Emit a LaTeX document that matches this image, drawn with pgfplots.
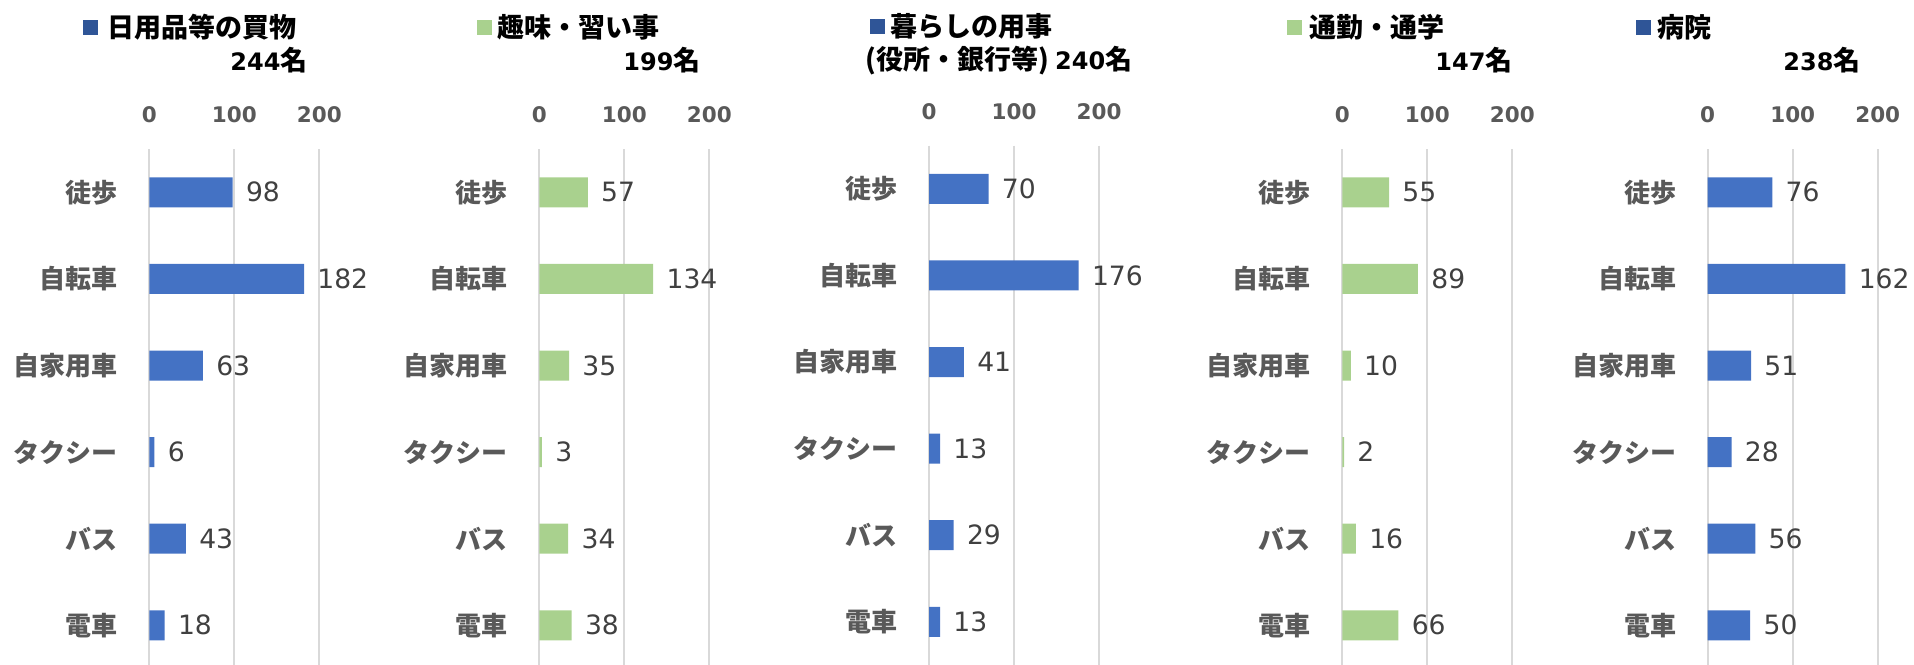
\documentclass[border=0pt]{standalone}
\usepackage{fontspec}
\setmainfont{DejaVu Sans}
\newfontfamily\jp{Noto Sans CJK JP}
\usepackage{pgfplots}
\pgfplotsset{compat=1.18}
\definecolor{barblue}{HTML}{4472C4}
\definecolor{bargreen}{HTML}{A9D18E}
\definecolor{legblue}{HTML}{2F5597}
\definecolor{labgray}{HTML}{595959}
\definecolor{numgray}{HTML}{404040}
\definecolor{gridgray}{HTML}{D9D9D9}
\pgfplotsset{panel/.style={
  xbar, scale only axis, width=85pt, height=259.8pt,
  xmin=0, xmax=200, ymin=-0.5, ymax=5.5, y dir=reverse,
  enlargelimits=false, clip=false,
  axis line style={draw=none}, major tick length=0pt,
  xtick={0,100,200}, xticklabels={0,100,200}, xticklabel pos=upper,
  xticklabel style={font=\bfseries\fontsize{10.75}{11}\selectfont, text=labgray, anchor=base, inner sep=0pt, yshift=13.2pt},
  ytick={0,...,5}, yticklabels={徒歩,自転車,自家用車,タクシー,バス,電車},
  yticklabel style={font=\jp\bfseries\fontsize{13}{13}\selectfont, text=labgray, anchor=east, inner sep=0pt, xshift=-15.5pt},
  xmajorgrids, major grid style={draw=gridgray, line width=1pt},
  bar width=15pt,
  nodes near coords, nodes near coords style={font=\fontsize{13.3}{14}\selectfont, text=numgray, anchor=west, inner sep=0pt, xshift=6.5pt},
  /pgf/number format/assume math mode=true,
  anchor=north west,
}}
\tikzset{ttl/.style={anchor=west, inner sep=0pt, font=\jp\bfseries\fontsize{13.5}{14}\selectfont}}
\newcommand{\num}[1]{{\fontspec{DejaVu Sans}\bfseries\fontsize{12}{12}\selectfont #1}}
\begin{document}
\begin{tikzpicture}
\path[use as bounding box] (0,0) rectangle (957pt,332pt);
% Panel 1
\begin{axis}[panel, at={(74.65pt,257.5pt)}]
\addplot[fill=barblue, draw=none] coordinates {(98,0) (182,1) (63,2) (6,3) (43,4) (18,5)};
\end{axis}
% Panel 2
\begin{axis}[panel, at={(269.65pt,257.5pt)}]
\addplot[fill=bargreen, draw=none] coordinates {(57,0) (134,1) (35,2) (3,3) (34,4) (38,5)};
\end{axis}
% Panel 3
\begin{axis}[panel, at={(464.5pt,259.25pt)}]
\addplot[fill=barblue, draw=none] coordinates {(70,0) (176,1) (41,2) (13,3) (29,4) (13,5)};
\end{axis}
% Panel 4
\begin{axis}[panel, at={(671.15pt,257.5pt)}]
\addplot[fill=bargreen, draw=none] coordinates {(55,0) (89,1) (10,2) (2,3) (16,4) (66,5)};
\end{axis}
% Panel 5
\begin{axis}[panel, at={(853.85pt,257.5pt)}]
\addplot[fill=barblue, draw=none] coordinates {(76,0) (162,1) (51,2) (28,3) (56,4) (50,5)};
\end{axis}
% Titles
\fill[legblue] (41.5pt,314.5pt) rectangle ++(7.5pt,7.5pt);
\node[ttl] at (53.5pt,318.5pt) {日用品等の買物};
\node[ttl] at (115pt,302pt) {\num{244}名};
\fill[bargreen] (238.35pt,314.5pt) rectangle ++(7.5pt,7.5pt);
\node[ttl] at (248.5pt,318.5pt) {趣味・習い事};
\node[ttl] at (311.5pt,302pt) {\num{199}名};
\fill[legblue] (435pt,315pt) rectangle ++(7.5pt,7.5pt);
\node[ttl] at (445pt,319pt) {暮らしの用事};
\node[ttl] at (432.5pt,301.5pt) {(役所・銀行等) \num{240}名};
\fill[bargreen] (643.5pt,314.5pt) rectangle ++(7.5pt,7.5pt);
\node[ttl] at (654.5pt,318.5pt) {通勤・通学};
\node[ttl] at (717.5pt,302pt) {\num{147}名};
\fill[legblue] (818pt,314.5pt) rectangle ++(7.5pt,7.5pt);
\node[ttl] at (828.5pt,318.5pt) {病院};
\node[ttl] at (891.5pt,302pt) {\num{238}名};
\end{tikzpicture}
\end{document}
